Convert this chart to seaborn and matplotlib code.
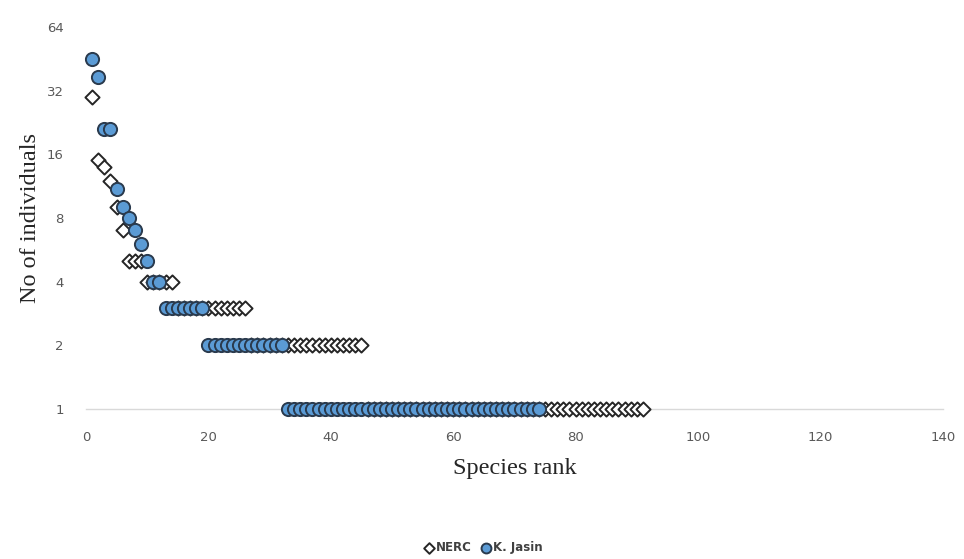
import matplotlib
matplotlib.use("Agg")
import matplotlib.pyplot as plt
import numpy as np
import pandas as pd
import seaborn as sns

# ================================
# DATA (species rank abundance)
# ================================
nerc_counts = [30, 15, 14, 12, 9, 7, 5, 5, 5] + [4] * 5 + [3] * 12 + [2] * 19 + [1] * 46
jasin_counts = [45, 37, 21, 21, 11, 9, 8, 7, 6, 5, 4, 4] + [3] * 7 + [2] * 13 + [1] * 42

y_ticks = [1, 2, 4, 8, 16, 32, 64]
x_ticks = [0, 20, 40, 60, 80, 100, 120, 140]

nerc_df = pd.DataFrame({"rank": np.arange(1, len(nerc_counts) + 1), "count": nerc_counts})
jasin_df = pd.DataFrame({"rank": np.arange(1, len(jasin_counts) + 1), "count": jasin_counts})

# ================================
# PLOT
# ================================
sns.set_style("white")

fig = plt.figure(figsize=(9.64, 5.59), dpi=100)
ax = fig.add_axes([0.0892, 0.2683, 0.8888, 0.6834])

sns.scatterplot(data=nerc_df, x="rank", y="count", ax=ax, marker="D", s=52,
                color="white", edgecolor="#262626", linewidth=1.4,
                label="NERC", clip_on=False)
sns.scatterplot(data=jasin_df, x="rank", y="count", ax=ax, marker="o", s=90,
                color="#5b9bd5", edgecolor="#2a3a4d", linewidth=1.4,
                label="K. Jasin", clip_on=False)
# blue circles sit on top of the diamonds
ax.collections[0].set_zorder(3)
ax.collections[1].set_zorder(5)

ax.set_yscale("log", base=2)
ax.set_ylim(1, 64)
ax.set_xlim(0, 140)
ax.set_yticks(y_ticks)
ax.set_yticklabels([str(t) for t in y_ticks])
ax.set_xticks(x_ticks)
ax.minorticks_off()
ax.tick_params(axis="both", length=0, labelsize=9.5, labelcolor="#595959", pad=16)

for side in ["top", "right", "left"]:
    ax.spines[side].set_visible(False)
ax.spines["bottom"].set_color("#d9d9d9")
ax.spines["bottom"].set_linewidth(1.0)

ax.set_xlabel("Species rank", fontsize=17.5, family="Liberation Serif", labelpad=10)
ax.set_ylabel("No of individuals", fontsize=17.5, family="Liberation Serif", labelpad=4)

ax.get_legend().remove()
handles, labels = ax.get_legend_handles_labels()
fig.legend(handles, labels, loc="lower center", bbox_to_anchor=(0.5, -0.01), ncol=2,
           frameon=False, handletextpad=0.0, columnspacing=0.6,
           handlelength=1.2, markerscale=0.75, prop={"weight": "bold", "size": 8.5},
           labelcolor="#404040")

plt.savefig("out.png", dpi=100)
plt.close()
